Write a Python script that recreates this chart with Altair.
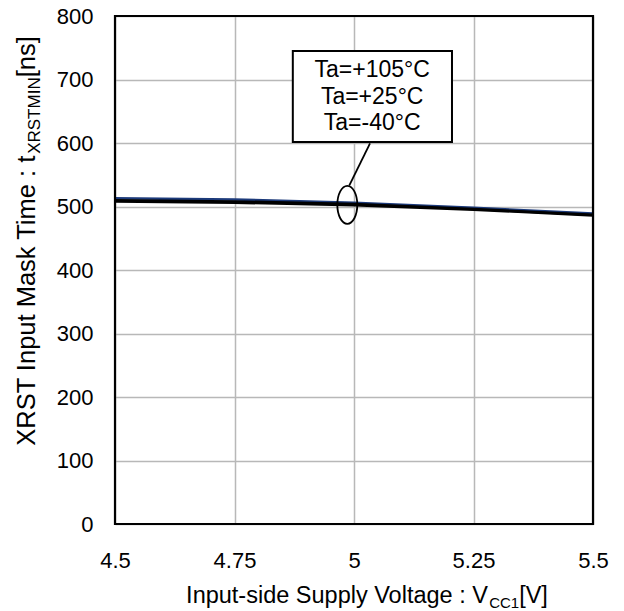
import altair as alt
import pandas as pd

# ---- data ----
voltage = [4.5, 4.75, 5.0, 5.25, 5.5]
t_105 = [513, 511, 506, 498, 489]
t_25 = [510, 508, 504, 496, 487]
t_m40 = [508, 506, 502, 495, 486]
series_names = ["Ta=+105°C", "Ta=+25°C", "Ta=-40°C"]
series_colors = ["#1c3a7a", "#000000", "#000000"]

x_ticks = [4.5, 4.75, 5.0, 5.25, 5.5]
y_ticks = [0, 100, 200, 300, 400, 500, 600, 700, 800]

rows = []
for name, vals in zip(series_names, [t_105, t_25, t_m40]):
    for v, t in zip(voltage, vals):
        rows.append({"V": v, "t": t, "series": name})
df = pd.DataFrame(rows)

# ---- layout ----
W, H = 478, 508
FONT = "Liberation Sans"
one = pd.DataFrame({"k": [0]})

xs = alt.Scale(domain=[4.5, 5.5], nice=False, zero=False)
ys = alt.Scale(domain=[0, 800], nice=False)

base_x = alt.X("V:Q", scale=xs, title=None,
               axis=alt.Axis(values=x_ticks, format=".2~f", grid=True, gridColor="#b8b8b8",
                             gridWidth=1.5, domain=False, ticks=False, labelPadding=26,
                             labelFlush=False, labelOverlap=False,
                             labelFontSize=22, labelFont=FONT, labelColor="black"))
base_y = alt.Y("t:Q", scale=ys, title=None,
               axis=alt.Axis(values=y_ticks, grid=True, gridColor="#b8b8b8", gridWidth=1.5,
                             domain=False, ticks=False, labelPadding=22,
                             labelFlush=False, labelOverlap=False,
                             labelFontSize=22, labelFont=FONT, labelColor="black"))

# draw blue first, then blacks on top
line_layers = [
    alt.Chart(df[df.series == s]).mark_line(strokeWidth=2.5, color=c).encode(
        x=alt.X("V:Q", scale=xs), y=alt.Y("t:Q", scale=ys))
    for s, c in zip(series_names, series_colors)
]

# ---- annotation (box, leader, ellipse) ----
box = pd.DataFrame({"x1": [4.872], "x2": [5.205], "y1": [745], "y2": [601.6]})
box_mark = alt.Chart(box).mark_rect(fill="white", stroke="black", strokeWidth=2).encode(
    x=alt.X("x1:Q", scale=xs), x2="x2", y=alt.Y("y1:Q", scale=ys), y2="y2")

ann_text = pd.DataFrame({"label": series_names, "x": [5.038] * 3, "y": [715, 672, 631]})
text_mark = alt.Chart(ann_text).mark_text(font=FONT, fontSize=23, baseline="middle",
                                          align="center", color="black").encode(
    x=alt.X("x:Q", scale=xs), y=alt.Y("y:Q", scale=ys), text="label:N")

leader = pd.DataFrame({"x1": [5.0335], "x2": [4.990], "y1": [599.5], "y2": [532.8]})
leader_mark = alt.Chart(leader).mark_rule(color="black", strokeWidth=1.8).encode(
    x=alt.X("x1:Q", scale=xs), x2="x2", y=alt.Y("y1:Q", scale=ys), y2="y2")

ellipse = pd.DataFrame({"x": [4.986], "y": [502.7]})
ellipse_mark = alt.Chart(ellipse).mark_point(
    shape="M -0.526 0 A 0.526 1 0 1 0 0.526 0 A 0.526 1 0 1 0 -0.526 0",
    size=1444, filled=False, stroke="black", strokeWidth=1.8, opacity=1).encode(
    x=alt.X("x:Q", scale=xs), y=alt.Y("y:Q", scale=ys))

# ---- frame ----
frame = alt.Chart(one).mark_rect(fill="transparent", stroke="black", strokeWidth=2.2).encode(
    x=alt.value(0), x2=alt.value(W), y=alt.value(0), y2=alt.value(H))

# ---- axis titles with subscripts ----
def w(s, size):
    widths = {"I": 278, "n": 556, "p": 556, "u": 556, "t": 278, "-": 333, "s": 500, "i": 222,
              "d": 556, "e": 556, " ": 278, "S": 667, "l": 222, "y": 500, "V": 667, "o": 556,
              "a": 556, "g": 556, ":": 278, "X": 667, "R": 722, "T": 611, "M": 833, "k": 500,
              "m": 833, "C": 722, "1": 556, "N": 722, "[": 278, "]": 278}
    return sum(widths.get(ch, 556) for ch in s) * size / 1000

TF, SF = 23.5, 15
x_main, x_sub, x_tail = "Input-side Supply Voltage : V", "CC1", "[V]"
x_total = w(x_main, TF) + w(x_sub, SF) + w(x_tail, TF)
x_start = (367 - 115) - x_total / 2
x_base = 587
xt1 = alt.Chart(one).mark_text(text=x_main, font=FONT, fontSize=TF, align="left",
                               baseline="alphabetic", color="black").encode(
    x=alt.value(x_start), y=alt.value(x_base))
xt2 = alt.Chart(one).mark_text(text=x_sub, font=FONT, fontSize=SF, align="left",
                               baseline="alphabetic", color="black").encode(
    x=alt.value(x_start + w(x_main, TF)), y=alt.value(x_base + 5))
xt3 = alt.Chart(one).mark_text(text=x_tail, font=FONT, fontSize=TF, align="left",
                               baseline="alphabetic", color="black").encode(
    x=alt.value(x_start + w(x_main, TF) + w(x_sub, SF)), y=alt.value(x_base))

TY, SY = 25.5, 17
y_main, y_sub, y_tail = "XRST Input Mask Time : t", "XRSTMIN", "[ns]"
y_total = w(y_main, TY) + w(y_sub, SY) + w(y_tail, TY)
y_start = (241 - 16) + y_total / 2
y_base = 35 - 115
yt1 = alt.Chart(one).mark_text(text=y_main, font=FONT, fontSize=TY, align="left", angle=270,
                               baseline="alphabetic", color="black").encode(
    x=alt.value(y_base), y=alt.value(y_start))
yt2 = alt.Chart(one).mark_text(text=y_sub, font=FONT, fontSize=SY, align="left", angle=270,
                               baseline="alphabetic", color="black").encode(
    x=alt.value(y_base + 5), y=alt.value(y_start - w(y_main, TY)))
yt3 = alt.Chart(one).mark_text(text=y_tail, font=FONT, fontSize=TY, align="left", angle=270,
                               baseline="alphabetic", color="black").encode(
    x=alt.value(y_base), y=alt.value(y_start - w(y_main, TY) - w(y_sub, SY)))

axes_layer = alt.Chart(df).mark_line(opacity=0).encode(x=base_x, y=base_y, detail="series:N")

chart = alt.layer(
    axes_layer, *line_layers, leader_mark, box_mark, text_mark, ellipse_mark, frame,
    xt1, xt2, xt3, yt1, yt2, yt3,
).properties(
    width=W, height=H,
    autosize=alt.AutoSizeParams(type="none"),
    padding={"left": 115, "top": 16, "right": 624 - 115 - W, "bottom": 611 - 16 - H},
    background="white",
).configure_view(strokeWidth=0)

chart.save("out.html", embed_options={"renderer": "svg", "actions": False})
